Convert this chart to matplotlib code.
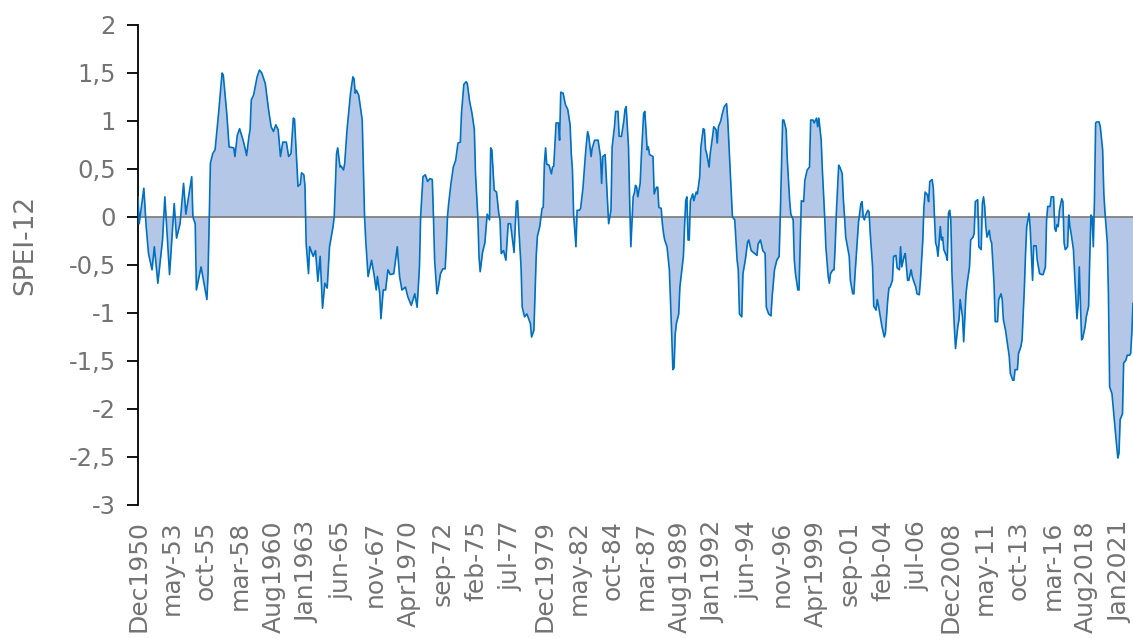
import matplotlib
matplotlib.use("Agg")
import matplotlib.pyplot as plt

# month index counted from Dec 1950 (0) to Dec 2021 (852)
month_idx = [
    0, 1, 5, 7, 9, 12, 14, 17, 21, 23,
    27, 31, 33, 36, 39, 41, 46, 47, 49, 50,
    54, 59, 60, 62, 64, 66, 69, 72, 73, 76,
    78, 82, 83, 85, 87, 90, 92, 93, 95, 96,
    97, 99, 102, 104, 106, 109, 112, 114, 116, 118,
    120, 122, 124, 127, 129, 131, 133, 134, 136, 137,
    139, 140, 142, 143, 144, 146, 147, 150, 152, 154,
    156, 158, 160, 162, 164, 167, 168, 170, 171, 173,
    174, 176, 177, 179, 182, 184, 185, 186, 187, 189,
    192, 193, 194, 195, 197, 200, 202, 204, 205, 207,
    208, 210, 212, 214, 216, 219, 222, 224, 226, 229,
    231, 234, 237, 239, 241, 242, 244, 246, 248, 250,
    252, 253, 254, 256, 257, 259, 261, 263, 264, 265,
    266, 268, 270, 272, 274, 276, 277, 279, 281, 282,
    284, 286, 288, 289, 291, 292, 293, 295, 297, 299,
    301, 302, 303, 305, 307, 309, 310, 311, 313, 315,
    317, 319, 320, 322, 324, 325, 326, 328, 329, 331,
    333, 336, 337, 339, 340, 341, 342, 344, 346, 347,
    348, 349, 350, 352, 354, 355, 356, 358, 360, 361,
    362, 364, 366, 368, 370, 371, 372, 373, 375, 376,
    378, 379, 381, 383, 384, 385, 386, 388, 389, 391,
    394, 396, 397, 398, 400, 402, 403, 405, 406, 408,
    409, 411, 412, 414, 416, 417, 418, 420, 421, 422,
    424, 425, 426, 427, 428, 430, 431, 433, 434, 436,
    437, 438, 441, 442, 444, 445, 446, 448, 449, 450,
    451, 453, 455, 457, 458, 459, 460, 461, 463, 464,
    466, 467, 468, 469, 470, 471, 472, 473, 475, 476,
    478, 479, 481, 482, 484, 485, 486, 487, 489, 490,
    492, 493, 495, 496, 497, 499, 500, 502, 504, 505,
    507, 509, 511, 512, 513, 514, 515, 517, 518, 520,
    522, 523, 525, 526, 528, 530, 531, 533, 535, 537,
    538, 540, 542, 543, 545, 547, 549, 550, 552, 553,
    555, 556, 558, 559, 561, 562, 563, 565, 566, 567,
    568, 570, 571, 573, 575, 576, 578, 579, 581, 582,
    583, 585, 586, 588, 589, 591, 592, 593, 595, 596,
    597, 598, 600, 601, 603, 604, 605, 606, 608, 609,
    610, 612, 613, 614, 616, 617, 619, 620, 621, 622,
    623, 625, 626, 627, 629, 630, 632, 633, 634, 636,
    637, 639, 640, 642, 643, 644, 646, 647, 649, 650,
    652, 653, 654, 656, 657, 659, 660, 662, 663, 664,
    666, 667, 669, 670, 672, 673, 674, 676, 677, 678,
    680, 681, 682, 683, 684, 685, 687, 688, 689, 690,
    692, 693, 694, 695, 696, 697, 699, 700, 702, 703,
    704, 706, 707, 709, 710, 712, 713, 715, 716, 717,
    719, 720, 722, 723, 724, 725, 726, 727, 729, 730,
    731, 733, 734, 736, 737, 739, 740, 741, 743, 744,
    746, 747, 749, 750, 751, 753, 754, 756, 757, 759,
    760, 761, 763, 764, 766, 767, 769, 770, 772, 774,
    775, 777, 778, 779, 781, 782, 784, 785, 786, 787,
    788, 789, 791, 792, 793, 794, 796, 797, 798, 799,
    801, 802, 804, 805, 806, 808, 809, 811, 812, 814,
    815, 816, 817, 818, 819, 820, 821, 823, 824, 826,
    827, 828, 830, 831, 832, 834, 835, 836, 837, 839,
    840, 841, 843, 844, 846, 847, 849, 850, 851, 852,
]

spei = [
    0.21, -0.07, 0.30, -0.10, -0.38, -0.55, -0.31, -0.69, -0.24, 0.21,
    -0.60, 0.14, -0.22, -0.07, 0.35, 0.03, 0.42, 0.00, -0.07, -0.76,
    -0.52, -0.86, -0.59, 0.56, 0.66, 0.70, 1.08, 1.50, 1.48, 1.08,
    0.73, 0.72, 0.63, 0.85, 0.92, 0.80, 0.70, 0.64, 0.84, 0.91,
    1.22, 1.27, 1.46, 1.53, 1.50, 1.39, 1.10, 0.94, 0.89, 0.96,
    0.91, 0.63, 0.78, 0.78, 0.63, 0.66, 1.03, 1.02, 0.56, 0.32,
    0.34, 0.46, 0.44, 0.32, -0.28, -0.59, -0.31, -0.41, -0.35, -0.67,
    -0.41, -0.95, -0.69, -0.74, -0.31, -0.10, 0.00, 0.66, 0.72, 0.52,
    0.53, 0.49, 0.56, 0.91, 1.29, 1.46, 1.44, 1.29, 1.32, 1.27,
    1.01, 0.49, 0.00, -0.24, -0.62, -0.45, -0.59, -0.76, -0.62, -0.80,
    -1.06, -0.76, -0.76, -0.55, -0.60, -0.59, -0.31, -0.62, -0.76, -0.73,
    -0.83, -0.92, -0.80, -0.94, -0.52, 0.00, 0.42, 0.44, 0.37, 0.40,
    0.39, 0.00, -0.45, -0.80, -0.75, -0.59, -0.54, -0.54, -0.31, 0.00,
    0.14, 0.35, 0.52, 0.59, 0.77, 0.78, 1.08, 1.38, 1.41, 1.39,
    1.20, 1.08, 0.91, 0.45, 0.00, -0.41, -0.57, -0.37, -0.27, 0.03,
    -0.03, 0.72, 0.70, 0.28, 0.26, 0.03, -0.03, -0.38, -0.35, -0.45,
    -0.07, -0.07, -0.17, -0.37, 0.16, 0.17, -0.10, -0.52, -0.94, -1.04,
    -1.01, -1.11, -1.25, -1.18, -0.80, -0.40, -0.20, -0.10, 0.09, 0.10,
    0.56, 0.72, 0.55, 0.54, 0.45, 0.52, 0.53, 0.98, 0.98, 0.80,
    1.30, 1.29, 1.17, 1.12, 0.96, 0.66, 0.49, 0.03, -0.31, 0.07,
    0.07, 0.09, 0.30, 0.63, 0.77, 0.89, 0.84, 0.63, 0.72, 0.80,
    0.80, 0.63, 0.35, 0.63, 0.65, 0.17, -0.07, 0.07, 0.73, 0.94,
    1.10, 1.10, 0.84, 0.84, 1.00, 1.12, 1.15, 0.73, 0.17, -0.31,
    0.21, 0.25, 0.33, 0.31, 0.21, 0.35, 0.63, 1.08, 1.10, 0.70,
    0.73, 0.65, 0.63, 0.24, 0.31, 0.31, 0.10, 0.09, -0.07, -0.17,
    -0.24, -0.31, -0.55, -1.22, -1.59, -1.57, -1.22, -1.11, -1.01, -0.73,
    -0.52, -0.41, -0.10, 0.17, 0.21, -0.24, -0.24, 0.17, 0.24, 0.17,
    0.26, 0.24, 0.42, 0.73, 0.92, 0.91, 0.70, 0.66, 0.52, 0.66,
    0.84, 0.94, 0.91, 0.77, 0.94, 1.00, 1.06, 1.15, 1.18, 1.01,
    0.50, 0.00, -0.03, -0.24, -0.45, -0.55, -1.01, -1.04, -0.59, -0.45,
    -0.26, -0.24, -0.35, -0.36, -0.38, -0.40, -0.28, -0.24, -0.35, -0.38,
    -0.94, -1.01, -1.03, -0.83, -0.55, -0.45, -0.41, 0.03, 1.01, 1.01,
    0.91, 0.59, 0.17, 0.03, -0.03, -0.45, -0.59, -0.76, -0.76, -0.31,
    0.17, 0.16, 0.38, 0.49, 0.52, 1.01, 1.01, 0.98, 1.03, 0.94,
    1.03, 0.80, 0.49, 0.00, -0.31, -0.62, -0.69, -0.59, -0.55, -0.55,
    -0.30, 0.05, 0.54, 0.52, 0.45, 0.18, 0.00, -0.21, -0.34, -0.41,
    -0.66, -0.80, -0.80, -0.59, -0.24, -0.05, 0.14, 0.16, 0.00, -0.03,
    0.02, 0.07, 0.05, -0.17, -0.52, -0.93, -0.97, -0.86, -0.92, -1.07,
    -1.14, -1.25, -1.21, -0.86, -0.74, -0.73, -0.66, -0.41, -0.40, -0.53,
    -0.55, -0.31, -0.52, -0.41, -0.38, -0.66, -0.66, -0.55, -0.62, -0.66,
    -0.73, -0.80, -0.81, -0.66, -0.24, 0.11, 0.26, 0.23, 0.16, 0.37,
    0.39, 0.30, 0.00, -0.27, -0.31, -0.41, -0.10, -0.24, -0.21, -0.34,
    -0.40, -0.45, 0.04, 0.07, -0.03, -0.59, -1.14, -1.37, -1.14, -1.07,
    -0.86, -1.04, -1.30, -0.80, -0.69, -0.52, -0.24, -0.21, -0.17, 0.16,
    0.18, -0.31, -0.34, 0.14, 0.21, 0.11, -0.10, -0.21, -0.14, -0.24,
    -0.27, -0.69, -1.09, -1.09, -0.86, -0.80, -0.86, -1.07, -1.19, -1.28,
    -1.45, -1.63, -1.70, -1.70, -1.59, -1.59, -1.42, -1.35, -1.28, -0.73,
    -0.38, -0.10, 0.04, -0.12, -0.66, -0.30, -0.30, -0.45, -0.59, -0.60,
    -0.60, -0.52, -0.03, 0.11, 0.11, 0.21, 0.21, -0.12, -0.15, -0.08,
    -0.10, 0.07, 0.19, 0.16, -0.27, -0.34, -0.31, 0.02, -0.10, -0.17,
    -0.34, -0.59, -1.06, -0.90, -0.52, -1.28, -1.26, -1.14, -1.04, -0.93,
    -0.41, 0.02, 0.00, -0.31, 0.18, 0.98, 0.99, 0.99, 0.94, 0.70,
    0.25, 0.05, -0.27, -0.83, -1.77, -1.84, -1.98, -2.11, -2.25, -2.51,
    -2.46, -2.11, -2.05, -1.52, -1.49, -1.44, -1.44, -1.42, -1.21, -0.90,
]

tick_labels = ["Dec1950", "may-53", "oct-55", "mar-58", "Aug1960", "Jan1963",
               "jun-65", "nov-67", "Apr1970", "sep-72", "feb-75", "jul-77",
               "Dec1979", "may-82", "oct-84", "mar-87", "Aug1989", "Jan1992",
               "jun-94", "nov-96", "Apr1999", "sep-01", "feb-04", "jul-06",
               "Dec2008", "may-11", "oct-13", "mar-16", "Aug2018", "Jan2021"]
tick_step = 29  # one label every 29 months

y_ticks = [2, 1.5, 1, 0.5, 0, -0.5, -1, -1.5, -2, -2.5, -3]

assert len(month_idx) == len(spei)

plt.rcParams['font.family'] = ['DejaVu Sans']
grey = '#737373'

fig = plt.figure(figsize=(11.33, 6.38), dpi=100)
ax = fig.add_axes([138/1133, 1 - 505/638, 995/1133, 480/638])

ax.fill_between(month_idx, spei, 0, color='#B4C7E7', lw=0, zorder=1)
ax.axhline(0, color='#808080', lw=1.3, zorder=2)
ax.plot(month_idx, spei, color='#0070C0', lw=1.2, zorder=3)

ax.set_xlim(0, 852)
ax.set_ylim(-3, 2)

ax.set_yticks(y_ticks)
ax.set_yticklabels([('%g' % t).replace('.', ',') for t in y_ticks])
ax.set_xticks([i * tick_step for i in range(len(tick_labels))])
ax.set_xticklabels(tick_labels, rotation=90)

for s in ['top', 'right', 'bottom']:
    ax.spines[s].set_visible(False)
ax.spines['left'].set_color('black')
ax.spines['left'].set_linewidth(1.3)

ax.tick_params(axis='y', direction='out', length=8, width=1.3, color='black',
               labelcolor=grey, labelsize=17.5, pad=8)
ax.tick_params(axis='x', length=0, labelcolor=grey, labelsize=18, pad=11)

ax.set_ylabel('SPEI-12', color=grey, fontsize=19)
ax.yaxis.set_label_coords((38 - 138) / 995, (505 - 245) / 480)

fig.savefig('out.png', dpi=100)
